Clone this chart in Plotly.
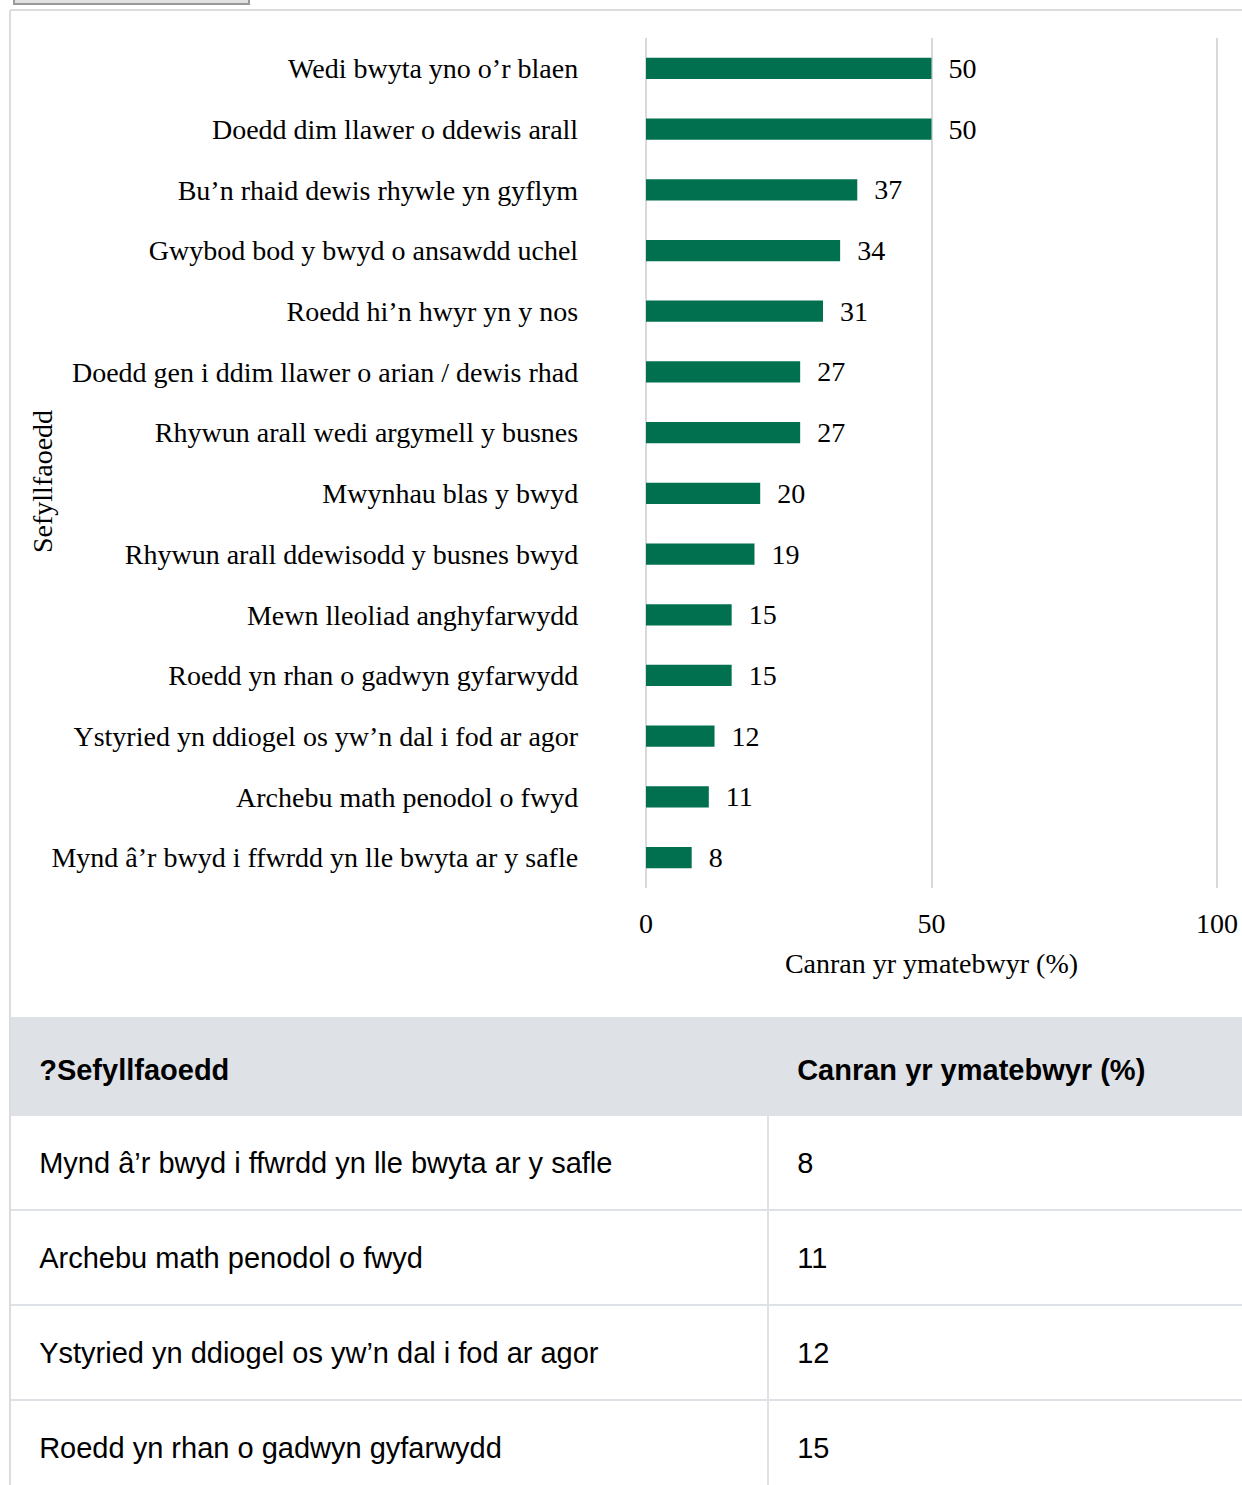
import plotly.graph_objects as go

# survey categories, top to bottom as shown on the chart
situations = [
    "Wedi bwyta yno o’r blaen",
    "Doedd dim llawer o ddewis arall",
    "Bu’n rhaid dewis rhywle yn gyflym",
    "Gwybod bod y bwyd o ansawdd uchel",
    "Roedd hi’n hwyr yn y nos",
    "Doedd gen i ddim llawer o arian / dewis rhad",
    "Rhywun arall wedi argymell y busnes",
    "Mwynhau blas y bwyd",
    "Rhywun arall ddewisodd y busnes bwyd",
    "Mewn lleoliad anghyfarwydd",
    "Roedd yn rhan o gadwyn gyfarwydd",
    "Ystyried yn ddiogel os yw’n dal i fod ar agor",
    "Archebu math penodol o fwyd",
    "Mynd â’r bwyd i ffwrdd yn lle bwyta ar y safle",
]
percent = [50, 50, 37, 34, 31, 27, 27, 20, 19, 15, 15, 12, 11, 8]

x_ticks = [0, 50, 100]

# table below the chart lists the rows smallest first
table_header = ["?Sefyllfaoedd", "Canran yr ymatebwyr (%)"]
table_rows = situations[::-1][:4]
table_vals = percent[::-1][:4]

W, H = 1290, 1520
GREEN = "#00704f"
SERIF = "Liberation Serif"
SANS = "Liberation Sans"
GRID = "#dee2e6"
PAD = "\u00a0\u00a0\u00a0"
TEXT_DROP = 28  # table text sits in the middle of each row
TEXT_SHIFT = 3


def px_x(p):
    return p / W


def px_y(p):
    return (H - p) / H


fig = go.Figure()

fig.add_trace(go.Bar(
    x=percent,
    y=situations,
    orientation="h",
    marker=dict(color=GREEN, line=dict(width=0)),
    width=0.35,
    texttemplate="\u00a0\u00a0%{x}",
    textposition="outside",
    constraintext="none",
    textfont=dict(family=SERIF, size=28, color="black"),
    outsidetextfont=dict(family=SERIF, size=28, color="black"),
    cliponaxis=False,
    hoverinfo="skip",
))

# table grid: fills and borders only
fig.add_trace(go.Table(
    domain=dict(x=[px_x(10), 1], y=[0, px_y(1018)]),
    columnwidth=[758, W - 10 - 758],
    header=dict(
        values=["" for _ in table_header],
        fill_color=GRID,
        line=dict(color=GRID, width=2),
        height=97,
    ),
    cells=dict(
        values=[["" for _ in table_rows], ["" for _ in table_vals]],
        fill_color="white",
        line=dict(color=GRID, width=2),
        height=95,
    ),
))

# table text, laid over the grid
fig.add_trace(go.Table(
    domain=dict(x=[px_x(10 - TEXT_SHIFT), 1], y=[0, px_y(1018 + TEXT_DROP)]),
    columnwidth=[758, W - 10 - 758 + TEXT_SHIFT],
    header=dict(
        values=[f"<b>{PAD}{h}</b>" for h in table_header],
        fill_color="rgba(0,0,0,0)",
        line=dict(color="rgba(0,0,0,0)", width=0),
        align="left",
        height=97,
        font=dict(family=SANS, size=29, color="black"),
    ),
    cells=dict(
        values=[[PAD + r for r in table_rows], [PAD + str(v) for v in table_vals]],
        fill_color="rgba(0,0,0,0)",
        line=dict(color="rgba(0,0,0,0)", width=0),
        align="left",
        height=95,
        font=dict(family=SANS, size=29, color="black"),
    ),
))

x_lo, x_hi = -0.5, 100.5
unit = (1217 - 646) / 100
fig.update_xaxes(
    domain=[px_x(646 + x_lo * unit), px_x(646 + x_hi * unit)],
    range=[x_lo, x_hi],
    tickvals=x_ticks,
    showgrid=True,
    gridcolor="#d9d9d9",
    gridwidth=1.5,
    zeroline=False,
    showline=False,
    ticks="",
    ticklabelstandoff=16,
    tickfont=dict(family=SERIF, size=28, color="black"),
    title=dict(text="Canran yr ymatebwyr (%)", standoff=15,
               font=dict(family=SERIF, size=28, color="black")),
    automargin=False,
    fixedrange=True,
)
fig.update_yaxes(
    domain=[px_y(888), px_y(38)],
    categoryorder="array",
    categoryarray=situations,
    autorange="reversed",
    showgrid=False,
    ticks="",
    ticklabelstandoff=64,
    tickfont=dict(family=SERIF, size=28, color="black"),
    automargin=False,
    fixedrange=True,
)

fig.add_annotation(
    text="Sefyllfaoedd", textangle=-90,
    x=px_x(42), y=px_y(482), xref="paper", yref="paper",
    xanchor="center", yanchor="middle", showarrow=False,
    font=dict(family=SERIF, size=28, color="black"),
)

# page frame and the clipped button at the very top
fig.add_shape(type="line", xref="paper", yref="paper",
              x0=px_x(10), x1=1, y0=px_y(10), y1=px_y(10),
              line=dict(color="#dcdcdc", width=2))
fig.add_shape(type="line", xref="paper", yref="paper",
              x0=px_x(10), x1=px_x(10), y0=0, y1=px_y(10),
              line=dict(color="#dcdcdc", width=2))
fig.add_shape(type="rect", xref="paper", yref="paper",
              x0=px_x(14), x1=px_x(249), y0=px_y(4), y1=px_y(-20),
              fillcolor="#e0e0e0", line=dict(color="#999999", width=2))

fig.update_layout(
    width=W, height=H,
    margin=dict(l=0, r=0, t=0, b=0),
    paper_bgcolor="white",
    plot_bgcolor="white",
    showlegend=False,
)

fig.write_html(
    "out.html",
    config={"displayModeBar": False},
    post_script="document.body.style.margin='0';document.body.style.overflow='hidden';",
)
